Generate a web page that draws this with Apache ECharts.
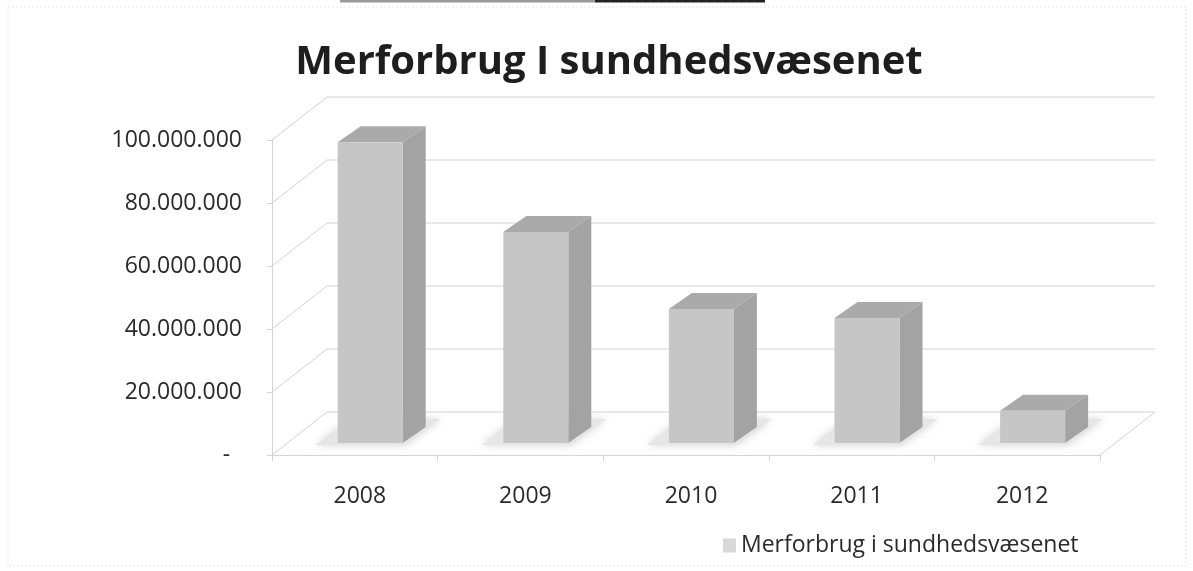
<!DOCTYPE html>
<html>
<head>
<meta charset="utf-8">
<script src="https://cdn.jsdelivr.net/npm/echarts@6/dist/echarts.min.js"></script>
<style>
html,body{margin:0;padding:0;background:#fff;}
#chart{width:1193px;height:571px;}
</style>
</head>
<body>
<div id="chart"></div>
<script>
// ---- data ----
const categories = ['2008', '2009', '2010', '2011', '2012'];
const values = [95500000, 67000000, 42500000, 39700000, 10200000];
const yTicks = [0, 20000000, 40000000, 60000000, 80000000, 100000000];
const seriesName = 'Merforbrug i sundhedsvæsenet';
const titleText = 'Merforbrug I sundhedsvæsenet';

// ---- 3D look parameters ----
const DX = 55, DY = -43;          // depth of the floor / back wall
const BAR_F = 0.28;               // depth position of the bar front face
const BAR_D = [23, -16];          // bar depth (side / top face)
const BAR_W = 65;                 // bar front face width

function fmt(v) {
  if (v === 0) return '-  ';
  return String(v).replace(/\B(?=(\d{3})+(?!\d))/g, '.');
}

const chart = echarts.init(document.getElementById('chart'));

const frameData = yTicks.map(v => [0, v]);
const barData = values.map((v, i) => [i, v]);

const option = {
  backgroundColor: '#ffffff',
  animation: false,
  title: {
    text: titleText,
    left: 604,
    textAlign: 'center',
    top: 38,
    textStyle: { fontFamily: 'Open Sans', fontWeight: 'bold', fontSize: 40, color: '#1e1e1e' }
  },
  legend: {
    data: [seriesName],
    left: 718,
    top: 529,
    icon: 'rect',
    itemWidth: 13,
    itemHeight: 14,
    itemGap: 6,
    textStyle: { fontFamily: 'Open Sans', fontSize: 23, color: '#2a2a2a' }
  },
  grid: { left: 272, right: 93, top: 140, bottom: 116 },
  xAxis: {
    type: 'category',
    data: categories,
    axisLine: { lineStyle: { color: '#d4d4d4' } },
    axisTick: { show: true, length: 6, lineStyle: { color: '#d4d4d4' } },
    axisLabel: { margin: 30, padding: [0, 0, 0, 10], fontFamily: 'Open Sans', fontSize: 23, color: '#2a2a2a' },
    splitLine: { show: false }
  },
  yAxis: {
    type: 'value',
    min: 0, max: 100000000, interval: 20000000,
    axisLine: { show: true, lineStyle: { color: '#d4d4d4' } },
    axisTick: { show: true, length: 5, lineStyle: { color: '#d4d4d4' } },
    axisLabel: { margin: 30, formatter: fmt, fontFamily: 'Open Sans', fontSize: 23, color: '#2a2a2a' },
    splitLine: { show: false }
  },
  graphic: [
    { type: 'rect', shape: { x: 8, y: 7, width: 1178, height: 559 }, style: { fill: 'none', stroke: '#e6e6e6', lineWidth: 1, lineDash: [2, 2] }, silent: true },
    { type: 'line', shape: { x1: 340, y1: 1, x2: 595, y2: 1 }, style: { stroke: '#9a9a9a', lineWidth: 3 }, silent: true },
    { type: 'line', shape: { x1: 595, y1: 1, x2: 765, y2: 1 }, style: { stroke: '#222', lineWidth: 3 }, silent: true }
  ],
  series: [
    {
      type: 'custom',
      name: 'frame',
      silent: true,
      clip: false,
      z: 1,
      data: frameData,
      renderItem: function (params, api) {
        const cs = params.coordSys;
        const x0 = cs.x, x1 = cs.x + cs.width;
        const y = api.coord([0, api.value(1)])[1];
        const st = { stroke: '#d2d2d2', lineWidth: 1, fill: null };
        const children = [
          { type: 'line', shape: { x1: x0, y1: y, x2: x0 + DX, y2: y + DY }, style: st },
          { type: 'line', shape: { x1: x0 + DX, y1: y + DY, x2: x1 + DX, y2: y + DY }, style: st }
        ];
        if (api.value(1) === 0) {
          children.push({ type: 'line', shape: { x1: x1, y1: y, x2: x1 + DX, y2: y + DY }, style: st });
        }
        return { type: 'group', children: children };
      }
    },
    {
      type: 'custom',
      name: seriesName,
      clip: false,
      z: 5,
      itemStyle: { color: '#d9d9d9' },
      data: barData,
      renderItem: function (params, api) {
        const i = api.value(0);
        const base = api.coord([i, 0]);
        const top = api.coord([i, api.value(1)]);
        const fx = BAR_F * DX, fy = BAR_F * DY;
        const lx = base[0] - BAR_W / 2 + fx;
        const rx = lx + BAR_W;
        const by = base[1] + fy;
        const ty = top[1] + fy;
        const dx = BAR_D[0], dy = BAR_D[1];
        return {
          type: 'group',
          children: [
            { // floor shadow
              type: 'polygon',
              shape: { points: [[lx - 22, by + 2], [rx + 2, by + 2], [rx + 2 + 36, by - 24], [lx - 22 + 36, by - 24]] },
              style: { fill: '#e6e6e6', shadowBlur: 8, shadowColor: 'rgba(200,200,200,0.8)' }
            },
            { // side face
              type: 'polygon',
              shape: { points: [[rx, ty], [rx, by], [rx + dx, by + dy], [rx + dx, ty + dy]] },
              style: { fill: '#a3a3a3' }
            },
            { // top face
              type: 'polygon',
              shape: { points: [[lx, ty], [rx, ty], [rx + dx, ty + dy], [lx + dx, ty + dy]] },
              style: { fill: '#aaaaaa' }
            },
            { // front face
              type: 'rect',
              shape: { x: lx, y: ty, width: BAR_W, height: by - ty },
              style: { fill: '#c6c6c6' }
            }
          ]
        };
      }
    }
  ]
};
chart.setOption(option);
</script>
</body>
</html>
